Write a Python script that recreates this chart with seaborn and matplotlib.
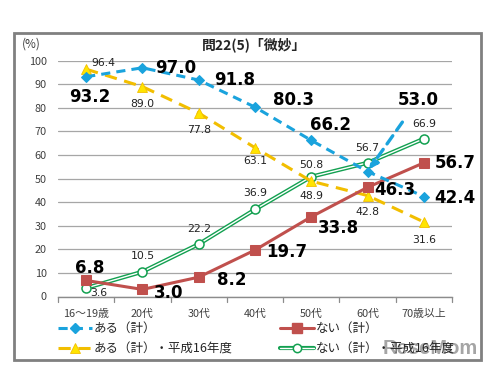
import matplotlib
matplotlib.use("Agg")
import matplotlib.pyplot as plt
import seaborn as sns
import numpy as np
import pandas as pd
from matplotlib.lines import Line2D
from matplotlib.legend_handler import HandlerTuple
from matplotlib.patches import Rectangle

sns.set_theme(style="white")
plt.rcParams['font.family'] = ['Noto Sans CJK JP', 'DejaVu Sans']

categories = ["16～19歳", "20代", "30代", "40代", "50代", "60代", "70歳以上"]
aru = [93.2, 97.0, 91.8, 80.3, 66.2, 53.0, 42.4]
nai = [6.8, 3.0, 8.2, 19.7, 33.8, 46.3, 56.7]
aru_h16 = [96.4, 89.0, 77.8, 63.1, 48.9, 42.8, 31.6]
nai_h16 = [3.6, 10.5, 22.2, 36.9, 50.8, 56.7, 66.9]
series_names = ["ある（計）", "ない（計）", "ある（計）・平成16年度", "ない（計）・平成16年度"]
title = "問22(5)「微妙」"

BLUE = "#1AA3DD"
RED = "#C0504D"
YEL = "#F2BE00"
YELM = "#FFE400"
GRN = "#12A050"

fig = plt.figure(figsize=(4.93, 3.72), dpi=100)
ax = fig.add_axes([58/493, 1-296.5/372, (452-58)/493, (296.5-60.7)/372])
x = np.arange(len(categories))

# green double line
sns.lineplot(x=x, y=nai_h16, ax=ax, color=GRN, lw=3.0, zorder=2)
sns.lineplot(x=x, y=nai_h16, ax=ax, color="white", lw=1.0, zorder=2.1)
sns.lineplot(x=x, y=nai_h16, ax=ax, color=GRN, lw=0, marker='o', markersize=6.5,
             markerfacecolor='white', markeredgecolor=GRN, markeredgewidth=1.1, zorder=2.2)
# yellow dashed
sns.lineplot(x=x, y=aru_h16, ax=ax, color=YEL, lw=2.2, linestyle=(0, (4, 2.5)),
             marker='^', markersize=7.5, markerfacecolor=YELM, markeredgecolor=YEL,
             markeredgewidth=0.6, zorder=3)
# red
sns.lineplot(x=x, y=nai, ax=ax, color=RED, lw=2.2, marker='s', markersize=6.5,
             markerfacecolor=RED, markeredgecolor=RED, zorder=4)
# blue dashed
sns.lineplot(x=x, y=aru, ax=ax, color=BLUE, lw=2.2, linestyle=(0, (3, 2)),
             marker='D', markersize=5.5, markerfacecolor=BLUE, markeredgecolor=BLUE, zorder=5)

ax.set_xlim(-0.5, 6.5)
ax.set_ylim(0, 100)
ax.set_yticks(range(0, 101, 10))
ax.set_xticks(x)
ax.set_xticklabels(categories)
ax.tick_params(axis='both', labelsize=7.8, colors='#404040', length=0)
ax.tick_params(axis='y', pad=8)
ax.tick_params(axis='x', pad=9)
ax.grid(axis='y', color='#A6A6A6', lw=0.9)
ax.set_axisbelow(True)
for s in ['top', 'right', 'left']:
    ax.spines[s].set_visible(False)
ax.spines['bottom'].set_color('#8C8C8C')
ax.spines['bottom'].set_linewidth(1.0)
# category boundary ticks
for b in np.arange(-0.5, 7.0, 1.0):
    ax.plot([b, b], [0, -2.2], color='#8C8C8C', lw=0.9, clip_on=False)
ax.set_xlabel("")
ax.set_ylabel("")

bold = dict(fontsize=12, fontweight='bold', color='black', family=['DejaVu Sans'])
small = dict(fontsize=7.8, color='#222222', family=['DejaVu Sans'])

def lab(xi, yi, txt, dx, dy, st, ha='center'):
    ax.annotate(txt, (xi, yi), xytext=(dx, dy), textcoords='offset pixels',
                ha=ha, va='center', zorder=10, **st)

aru_off = [(4, -20), (33, 0), (36, 0), (38, 7), (19, 15), None, (31, -1)]
for i, v in enumerate(aru):
    if aru_off[i] is not None:
        lab(i, v, f"{v:.1f}", aru_off[i][0], aru_off[i][1], bold)
ax.annotate(f"{aru[5]:.1f}", xy=(5, aru[5]), xytext=(5.9, 83.5), ha='center', va='center',
            arrowprops=dict(arrowstyle='-|>', color=BLUE, lw=2.4, linestyle=(0, (3, 2)),
                            shrinkA=9, shrinkB=2, mutation_scale=12), zorder=10, **bold)
nai_off = [(4, 12), (26, -4), (33, -3), (32, -2), (27, -11), (27, -3), (31, 0)]
for i, v in enumerate(nai):
    lab(i, v, f"{v:.1f}", nai_off[i][0], nai_off[i][1], bold)
ah_off = [(17, 6), (0, -17), (0, -17), (0, -13), (0, -15), (0, -16), (0, -18)]
for i, v in enumerate(aru_h16):
    lab(i, v, f"{v:.1f}", ah_off[i][0], ah_off[i][1], small)
nh_off = [(13, -5), (0, 16), (0, 15), (0, 16), (0, 12), (0, 15), (0, 15)]
for i, v in enumerate(nai_h16):
    lab(i, v, f"{v:.1f}", nh_off[i][0], nh_off[i][1], small)

fig.text(254/493, 1-45/372, title, ha='center', va='center', fontsize=10, fontweight='bold')
fig.text(31/493, 1-44/372, "(%)", ha='center', va='center', fontsize=8.5, color='#404040')

# legend
h_blue = Line2D([], [], color=BLUE, lw=2.2, linestyle=(0, (3, 2)), marker='D', markersize=5,
                markerfacecolor=BLUE, markeredgecolor=BLUE)
h_red = Line2D([], [], color=RED, lw=2.2, marker='s', markersize=6.5,
               markerfacecolor=RED, markeredgecolor=RED)
h_yel = Line2D([], [], color=YEL, lw=2.2, linestyle=(0, (4, 2.5)), marker='^', markersize=7,
               markerfacecolor=YELM, markeredgecolor=YEL, markeredgewidth=0.6)
h_g1 = Line2D([], [], color=GRN, lw=3.0)
h_g2 = Line2D([], [], color='white', lw=1.0, marker='o', markersize=6,
              markerfacecolor='white', markeredgecolor=GRN, markeredgewidth=1.1)
common = dict(frameon=False, fontsize=9, handlelength=2.7, handletextpad=0.15,
              labelspacing=0.6, borderpad=0, borderaxespad=0, loc='upper left')
leg1 = fig.legend([h_blue, h_yel], [series_names[0], series_names[2]],
                  bbox_to_anchor=(58/493, 1-322/372), **common)
leg2 = fig.legend([h_red, (h_g1, h_g2)], [series_names[1], series_names[3]],
                  handler_map={tuple: HandlerTuple(ndivide=1)},
                  bbox_to_anchor=(280/493, 1-322/372), **common)

# watermark
fig.text(430/493, 1-349/372, "ReseMom", ha='center', va='center', fontsize=14.5,
         fontweight='bold', color='#8F8F8F', alpha=0.8, family=['Liberation Sans', 'DejaVu Sans'])

fig.patches.append(Rectangle((14/493, 1-360/372), (481-14)/493, (360-33)/372,
                             transform=fig.transFigure, fill=False, edgecolor='#808080', lw=2))

fig.savefig("out.png", dpi=100)
